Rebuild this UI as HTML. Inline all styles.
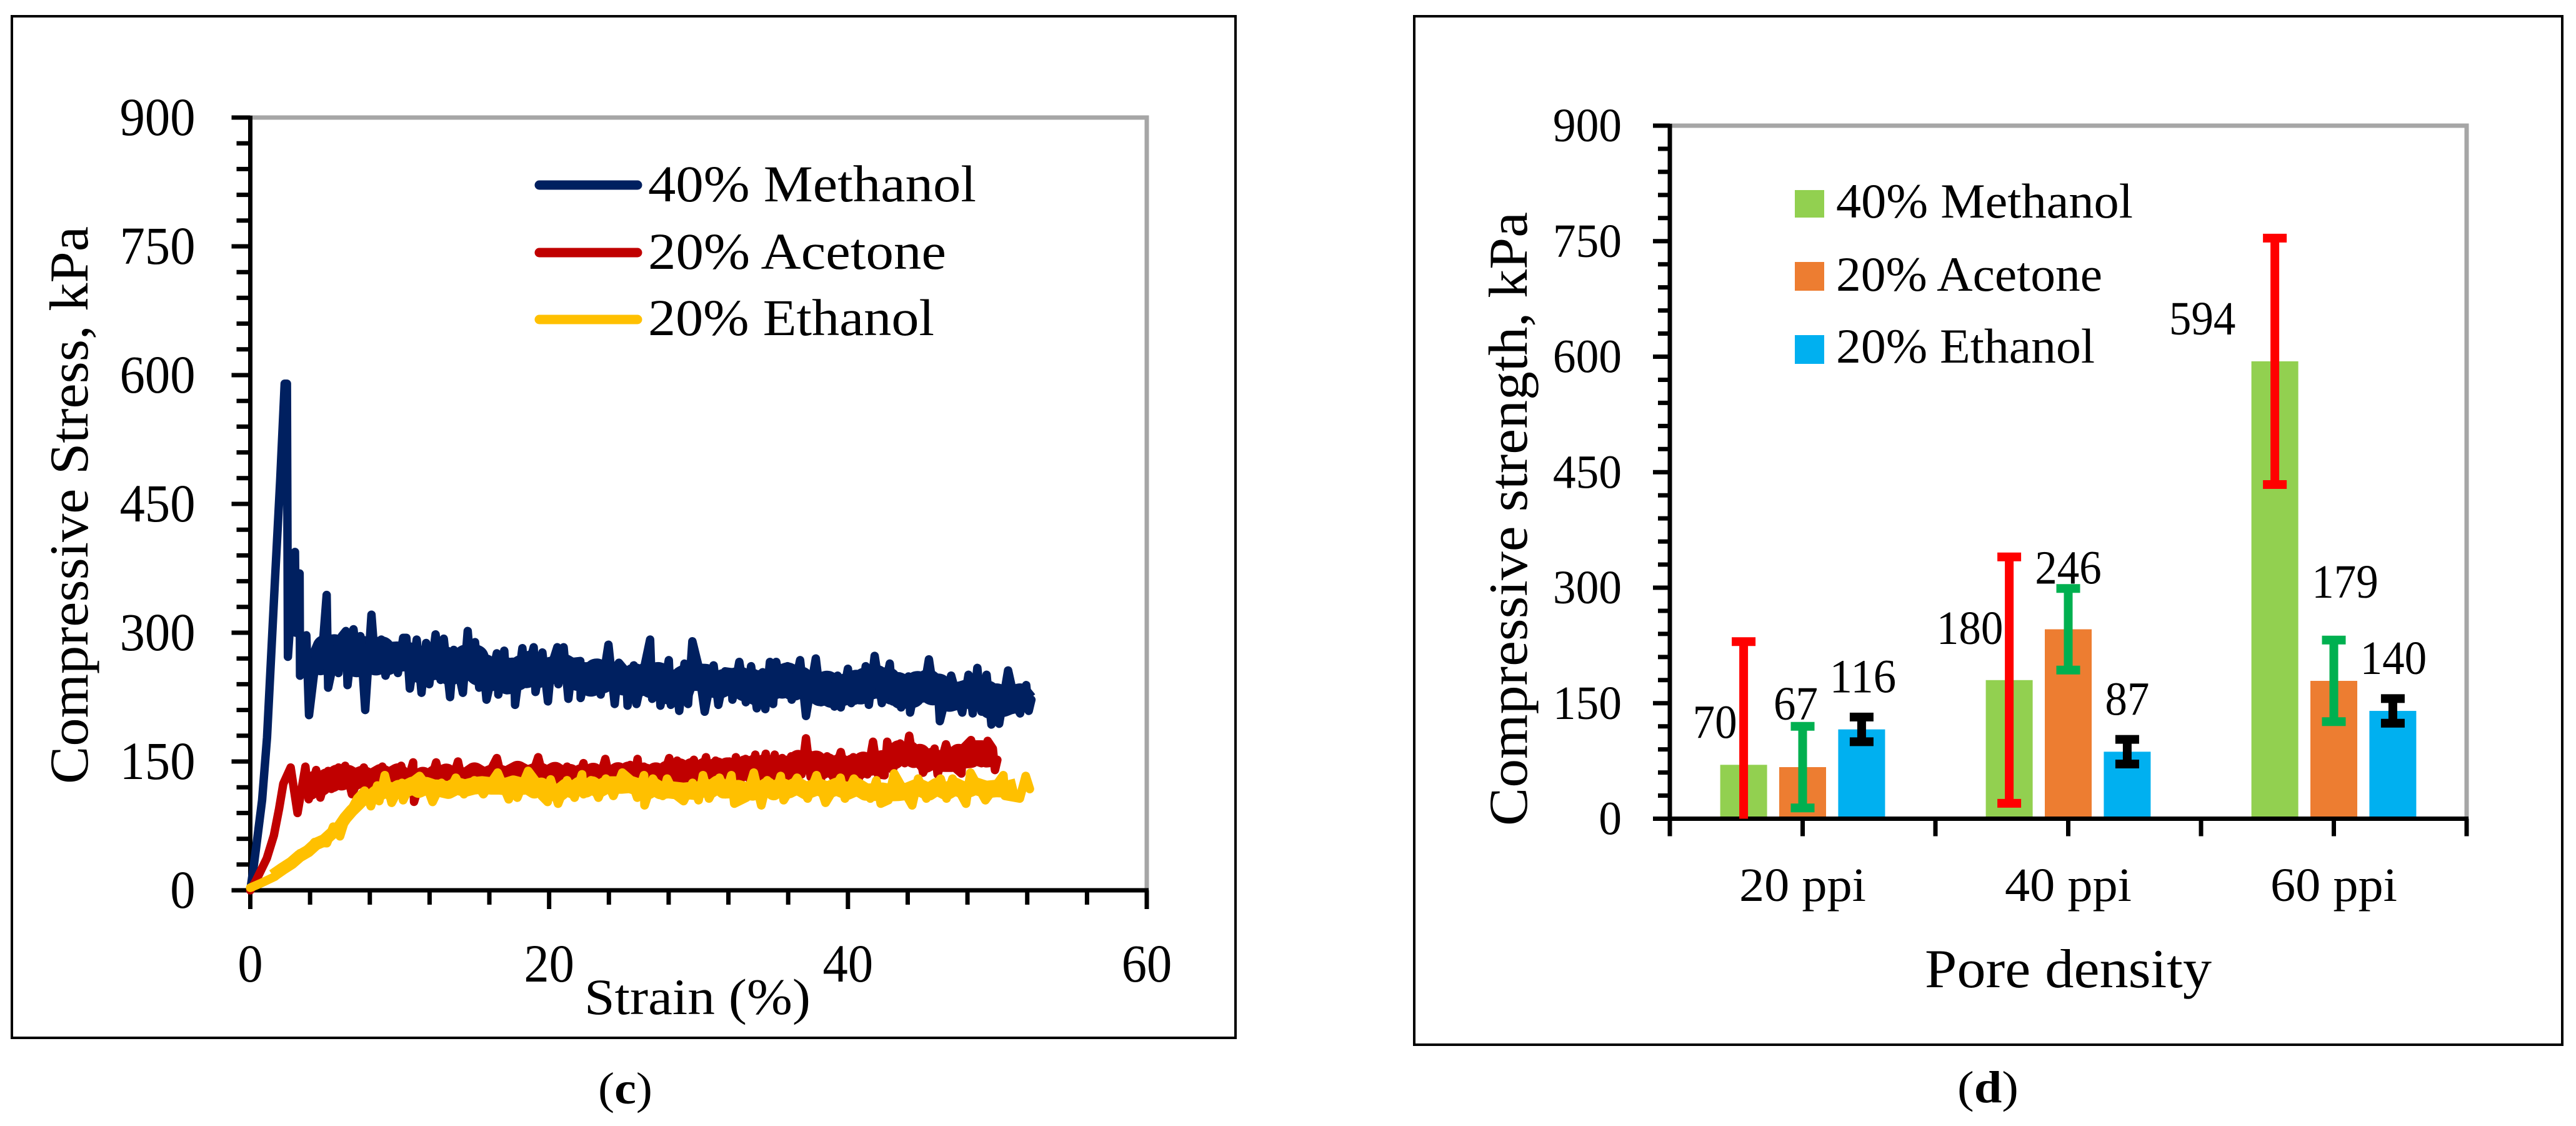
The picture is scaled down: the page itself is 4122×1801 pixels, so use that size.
<!DOCTYPE html>
<html lang="en">
<head>
<meta charset="utf-8">
<title>Compressive stress and strength charts</title>
<style>
html,body{margin:0;padding:0;background:#fff;}
svg{display:block;}
text{font-family:"Liberation Serif",serif;fill:#000;}
</style>
</head>
<body>
<svg id="figure" xmlns="http://www.w3.org/2000/svg" width="4122" height="1801" viewBox="0 0 4122 1801">
  <rect x="0" y="0" width="4122" height="1801" fill="#fff"/>
  <rect x="19" y="26" width="1958" height="1634" fill="#fff" stroke="#000" stroke-width="4"/>
  <rect x="2263" y="26" width="1837" height="1645" fill="#fff" stroke="#000" stroke-width="4"/>
  <g id="chartC"></g>
  <g id="chartD"></g>

  <text transform="translate(140 1254) rotate(-90)" font-size="88" textLength="892" lengthAdjust="spacingAndGlyphs">Compressive Stress, kPa</text>
  <text x="935" y="1622" font-size="82" textLength="362" lengthAdjust="spacingAndGlyphs">Strain (%)</text>
  <text x="957" y="1765" font-size="72" textLength="87" lengthAdjust="spacingAndGlyphs">(<tspan font-weight="bold">c</tspan>)</text>

  <line x1="863" y1="296" x2="1020" y2="296" stroke="#002060" stroke-width="15" stroke-linecap="round"/>
  <line x1="863" y1="404" x2="1020" y2="404" stroke="#c00000" stroke-width="15" stroke-linecap="round"/>
  <line x1="863" y1="511" x2="1020" y2="511" stroke="#ffc000" stroke-width="15" stroke-linecap="round"/>
  <text x="1037" y="322" font-size="83" textLength="525" lengthAdjust="spacingAndGlyphs">40% Methanol</text>
  <text x="1037" y="430" font-size="83" textLength="477" lengthAdjust="spacingAndGlyphs">20% Acetone</text>
  <text x="1037" y="536" font-size="83" textLength="458" lengthAdjust="spacingAndGlyphs">20% Ethanol</text>

  <text transform="translate(2443 1321) rotate(-90)" font-size="88" textLength="982" lengthAdjust="spacingAndGlyphs">Compressive strength, kPa</text>
  <text x="3080" y="1579" font-size="88" textLength="459" lengthAdjust="spacingAndGlyphs">Pore density</text>
  <text x="3132" y="1763" font-size="72" textLength="98" lengthAdjust="spacingAndGlyphs">(<tspan font-weight="bold">d</tspan>)</text>

  <rect x="2872" y="304" width="47" height="44" fill="#92d050"/>
  <rect x="2872" y="419" width="47" height="46" fill="#ed7d31"/>
  <rect x="2872" y="536" width="47" height="46" fill="#00b0f0"/>
  <text x="2938" y="348" font-size="78" textLength="475" lengthAdjust="spacingAndGlyphs">40% Methanol</text>
  <text x="2938" y="465" font-size="78" textLength="426" lengthAdjust="spacingAndGlyphs">20% Acetone</text>
  <text x="2938" y="580" font-size="78" textLength="414" lengthAdjust="spacingAndGlyphs">20% Ethanol</text>
</svg>
<script>
// ---- Chart (c): stress-strain data ----
const methanolStrain = [0,.1,.26,.5,.79,1.12,1.65,2,2.3,2.45,2.52,2.99,3.05,3.3,3.33,3.75,3.93,4.5,4.75,5.11,5.21,5.77,5.9,6.12,6.4,6.51,6.91,7.1,7.37,7.69,8.11,8.38,8.77,9.05,9.53,9.88,10.23,10.45,10.68,11.14,11.46,11.77,11.98,12.4,12.74,12.95,13.37,13.62,14.23,14.55,14.8,15.04,15.32,15.53,15.81,16.5,16.6,17,17.16,17.65,17.72,18.21,18.39,18.97,19.09,19.55,19.92,20.13,20.55,20.62,20.97,21.29,21.57,22.09,22.11,22.57,22.88,22.99,23.45,23.97,24.39,24.67,25.15,25.25,25.67,25.85,26.76,26.9,27.32,27.45,28.01,28.15,28.45,28.71,29.06,29.3,29.59,29.97,30.41,31.01,31.33,31.78,32.2,32.27,32.73,33.17,33.52,33.9,34.29,34.47,34.78,34.99,35.2,35.6,35.96,36.24,36.8,37.19,37.85,38.2,38.54,39.1,39.31,39.52,40,40.22,40.5,40.91,41.19,41.4,41.79,42.27,42.8,43,43.3,43.56,44.05,44.16,44.61,45,45.42,45.8,46,46.15,46.91,47.3,47.65,48.07,48.35,48.66,48.94,49.28,49.6,50.05,50.12,50.72,51.24,51.52,51.93,52.1,52.28];
const methanolStress = [0,12,32,65,105,178,360,477,590,590,272,394,300,369,250,297,204,286,262,344,236,282,253,296,302,239,304,272,296,210,321,258,292,250,278,253,294,294,235,292,230,288,240,298,245,293,225,280,230,302,250,289,236,274,222,276,228,279,233,265,216,282,245,283,231,277,220,260,283,240,283,223,266,267,224,261,232,263,228,286,217,265,255,215,262,217,292,223,251,215,268,216,250,209,264,217,290,263,208,262,216,255,254,222,266,219,261,212,254,211,266,217,266,230,261,222,268,203,270,219,246,214,250,213,258,218,245,222,261,216,273,218,264,220,245,213,249,207,247,225,269,225,241,197,250,225,207,251,206,259,208,251,193,231,194,256,215,206,239,209,222];

const acetoneStrain = [0,.4,1.1,1.58,1.93,2.21,2.7,3.16,3.69,3.91,4.41,4.69,5.21,5.42,5.91,6.1,6.35,6.8,7.6,8,8.84,9.2,10.1,10.4,10.9,10.96,11.56,11.9,12.44,12.8,13.16,13.3,13.9,14.3,14.83,15.5,16.5,17,18.11,18.6,19.27,19.7,20.76,21,21.2,21.7,22.3,22.6,22.92,23.2,23.76,24.2,24.67,25,25.43,25.6,25.92,26.1,26.34,26.7,27.1,27.5,28.04,28.3,28.57,29,29.69,30,30.5,30.8,31.15,31.6,32.06,32.3,32.5,32.8,33.15,33.4,33.8,34.1,34.5,34.8,35.1,35.3,35.6,35.9,36.2,36.4,36.66,36.9,37.19,37.5,37.85,38.2,38.6,39,39.52,39.9,40.36,40.7,41.05,41.3,41.68,42,42.45,42.63,43,43.5,43.8,44.1,44.4,44.75,45.03,45.8,46,46.56,47,47.6,47.68,48.24,48.6,48.94,49.35,49.7,49.84,50];
const acetoneStress = [0,12,37,64,95,124,143,90,144,106,140,108,139,118,143,125,145,112,143,120,144,122,145,118,149,103,138,118,149,122,140,115,150,118,141,120,154,118,145,120,155,125,142,120,144,120,148,122,138,120,153,118,142,125,146,122,153,120,144,122,138,125,154,125,151,125,152,125,155,128,151,128,150,128,155,128,153,130,158,130,159,128,158,130,154,128,156,130,158,135,177,132,157,130,156,132,161,130,155,128,155,135,173,135,134,173,140,171,148,180,148,161,137,165,135,170,145,136,165,175,150,148,174,165,140,152];

const ethanolStrain = [0,.68,1.65,2.35,2.84,3.33,3.7,4.3,5.13,5.55,6,6.38,6.74,7.16,7.65,8.07,8.5,8.63,9,9.46,10.15,10.23,10.8,11.33,11.8,12.2,12.8,13.2,13.76,14.3,15,15.6,16.1,16.56,17.3,17.7,17.87,18.6,19.2,19.5,19.9,20.1,20.6,21.2,21.7,22.2,22.3,22.8,23.3,23.8,24.3,24.9,25.5,25.9,26.35,26.39,26.95,27.6,27.9,28.4,29,29.6,30,30.3,30.7,31.4,31.8,32.2,32.4,33.2,33.7,34.2,34.6,35.1,35.5,35.7,36.6,37.3,37.9,38.5,39.5,39.8,40.4,41.5,41.9,42.2,42.7,43.1,44.3,44.7,45.25,46.2,46.6,47,47.9,48.2,49.2,50.4,50.5,51.5,51.9,52.17];
const ethanolStress = [3,8,16,27,32,43,42,56,55,74,63,84,93,107,116,98,122,104,134,102,125,105,126,133,122,103,125,112,131,112,128,112,125,137,106,128,108,139,125,110,103,129,101,128,108,135,112,128,108,130,110,137,128,108,134,99,130,110,130,112,104,125,105,134,107,131,112,134,101,108,137,99,128,110,133,105,131,107,134,102,131,107,130,107,128,101,105,136,99,130,107,130,107,130,101,137,105,134,110,107,133,118];

const strainTicks = [0,20,40,60];
const stressTicks = [0,150,300,450,600,750,900];

// ---- Chart (d): bar data ----
const poreCategories = ['20 ppi','40 ppi','60 ppi'];
const methanolBars = [70,180,594];
const acetoneBars = [67,246,179];
const ethanolBars = [116,87,140];
const methanolErr = [160,160,160];
const acetoneErr = [53,53,53];
const ethanolErr = [16,16,16];
const strengthTicks = [0,150,300,450,600,750,900];

const NS = 'http://www.w3.org/2000/svg';
function make(parent, tag, attrs, txt){
  const el = document.createElementNS(NS, tag);
  for (const k in attrs) el.setAttribute(k, attrs[k]);
  if (txt !== undefined) el.textContent = txt;
  parent.appendChild(el);
  return el;
}
function pathFrom(xs, ys, sx, sy){
  let d = '';
  for (let i = 0; i < xs.length; i++) d += (i ? 'L' : 'M') + sx(xs[i]).toFixed(1) + ' ' + sy(ys[i]).toFixed(1);
  return d;
}
function smoothBand(xs, ys, fromStrain, toStrain){
  const ox = [], oy = [];
  for (let i = 2; i < xs.length - 2; i++) {
    if (xs[i] < fromStrain || xs[i] > toStrain) continue;
    ox.push((xs[i-2]+xs[i-1]+xs[i]+xs[i+1]+xs[i+2])/5);
    oy.push((ys[i-2]+ys[i-1]+ys[i]+ys[i+1]+ys[i+2])/5);
  }
  return {xs: ox, ys: oy};
}

// ---- draw chart (c) ----
(function(){
  const g = document.getElementById('chartC');
  const L = 400.5, R = 1835, T = 188, B = 1424;
  const sx = v => L + v * (R - L) / 60;
  const sy = v => B - v * (B - T) / 900;

  const top = make(g, 'path', {d:`M${L} ${T}H${R}V${B}`, fill:'none', stroke:'#a6a6a6', 'stroke-width':7});
  
  

  for (let v = 0; v <= 900; v += 30) {
    const major = v % 150 === 0;
    const t = make(g, 'line', {x1: L - (major ? 30 : 22), x2: L, y1: sy(v), y2: sy(v), stroke:'#000', 'stroke-width':7});
    
    
  }
  for (let v = 0; v <= 60; v += 4) {
    const major = v % 20 === 0;
    const t = make(g, 'line', {x1: sx(v), x2: sx(v), y1: B, y2: B + (major ? 30 : 23), stroke:'#000', 'stroke-width':7});
    
    
  }
  const ya = make(g, 'line', {x1:L, x2:L, y1:T-3, y2:B+3, stroke:'#000', 'stroke-width':7});
  
  
  const xa = make(g, 'line', {x1:L-3, x2:R+3, y1:B, y2:B, stroke:'#000', 'stroke-width':7});
  
  

  stressTicks.forEach(v => {
    const s = String(v);
    const t = make(g, 'text', {x:312.5, y:sy(v)+28, 'font-size':86, 'text-anchor':'end', textLength:40.3*s.length, lengthAdjust:'spacingAndGlyphs'}, s);
    
    
  });
  strainTicks.forEach(v => {
    const s = String(v);
    const t = make(g, 'text', {x:sx(v), y:1570, 'font-size':86, 'text-anchor':'middle', textLength:40.3*s.length, lengthAdjust:'spacingAndGlyphs'}, s);
    
    
  });

  function drawBand(name, xs, ys, color, from, to, width){
    const core = smoothBand(xs, ys, from, to);
    const c = make(g, 'path', {d:pathFrom(core.xs, core.ys, sx, sy), fill:'none', stroke:color, 'stroke-width':width, 'stroke-linejoin':'round', 'stroke-linecap':'butt'});
    
    
  }
  function drawLine(name, xs, ys, color, width){
    const p = make(g, 'path', {d:pathFrom(xs, ys, sx, sy), fill:'none', stroke:color, 'stroke-width':width, 'stroke-linejoin':'round', 'stroke-linecap':'round'});
    
    
  }
  drawBand('methanol', methanolStrain, methanolStress, '#002060', 4.5, 99, 44);
  drawLine('methanol', methanolStrain, methanolStress, '#002060', 13.5);
  drawBand('acetone', acetoneStrain, acetoneStress, '#c00000', 3.2, 99, 34);
  drawLine('acetone', acetoneStrain, acetoneStress, '#c00000', 13.5);
  drawBand('ethanol-rise', ethanolStrain, ethanolStress, '#ffc000', 0.5, 9, 20);
  drawBand('ethanol', ethanolStrain, ethanolStress, '#ffc000', 9, 99, 28);
  drawLine('ethanol', ethanolStrain, ethanolStress, '#ffc000', 14);
})();

// ---- draw chart (d) ----
(function(){
  const g = document.getElementById('chartD');
  const L = 2672, R = 3947, T = 201, B = 1309.5;
  const band = (R - L) / poreCategories.length;
  const sx = i => L + (i + .5) * band;
  const sy = v => B - v * (B - T) / 900;
  const step = 94.4, barW = 75, capW = 38;

  const top = make(g, 'path', {d:`M${L} ${T}H${R}V${B}`, fill:'none', stroke:'#a6a6a6', 'stroke-width':7});
  
  

  const series = [
    {name:'methanol', vals:methanolBars, errs:methanolErr, fill:'#92d050', err:'#ff0000', off:-step},
    {name:'acetone', vals:acetoneBars, errs:acetoneErr, fill:'#ed7d31', err:'#00b050', off:0},
    {name:'ethanol', vals:ethanolBars, errs:ethanolErr, fill:'#00b0f0', err:'#000000', off:step}
  ];
  series.forEach(s => {
    s.vals.forEach((v, i) => {
      const cx = sx(i) + s.off;
      const r = make(g, 'rect', {x:cx - barW/2, y:sy(v), width:barW, height:B - sy(v), fill:s.fill});
      
      
    });
  });

  for (let v = 0; v <= 900; v += 30) {
    const major = v % 150 === 0;
    const t = make(g, 'line', {x1: L - (major ? 27 : 19), x2: L, y1: sy(v), y2: sy(v), stroke:'#000', 'stroke-width':7});
    
    
  }
  for (let i = 0; i <= poreCategories.length * 2; i++) {
    const x = L + i * band / 2;
    const t = make(g, 'line', {x1:x, x2:x, y1:B, y2:B + 28, stroke:'#000', 'stroke-width':7});
    
    
  }
  const ya = make(g, 'line', {x1:L, x2:L, y1:T-3, y2:B+3, stroke:'#000', 'stroke-width':7});
  
  
  const xa = make(g, 'line', {x1:L-3, x2:R+3, y1:B, y2:B, stroke:'#000', 'stroke-width':7});
  
  

  series.forEach(s => {
    s.vals.forEach((v, i) => {
      const cx = sx(i) + s.off;
      const hi = v + s.errs[i];
      const lo = v - s.errs[i];
      const stem = make(g, 'line', {x1:cx, x2:cx, y1:sy(hi), y2:sy(Math.max(lo, 0)), stroke:s.err, 'stroke-width':14});
      
      
      const capHi = make(g, 'line', {x1:cx - capW/2, x2:cx + capW/2, y1:sy(hi), y2:sy(hi), stroke:s.err, 'stroke-width':14});
      
      
      if (lo > 0) {
        const capLo = make(g, 'line', {x1:cx - capW/2, x2:cx + capW/2, y1:sy(lo), y2:sy(lo), stroke:s.err, 'stroke-width':14});
        
        
      }
    });
  });

  strengthTicks.forEach(v => {
    const s = String(v);
    const t = make(g, 'text', {x:2595, y:sy(v)+25, 'font-size':76, 'text-anchor':'end', textLength:36.7*s.length, lengthAdjust:'spacingAndGlyphs'}, s);
    
    
  });
  poreCategories.forEach((c, i) => {
    const t = make(g, 'text', {x:sx(i), y:1441, 'font-size':76, 'text-anchor':'middle', textLength:203, lengthAdjust:'spacingAndGlyphs'}, c);
    
    
  });

  // printed value labels: placement relative to the top of each bar, per series then category
  const nudgeX = [[-46,-63,-116],[-11,0,18],[2,0,1]];
  const lift = [[43,58,43],[76,73,133],[59,59,59]];
  series.forEach((s, si) => {
    s.vals.forEach((v, i) => {
      const label = String(v);
      const t = make(g, 'text', {x:sx(i) + s.off + nudgeX[si][i], y:sy(v) - lift[si][i], 'font-size':76, 'text-anchor':'middle', textLength:35.5*label.length, lengthAdjust:'spacingAndGlyphs'}, label);
      
      
    });
  });
})();
</script>
</body>
</html>
